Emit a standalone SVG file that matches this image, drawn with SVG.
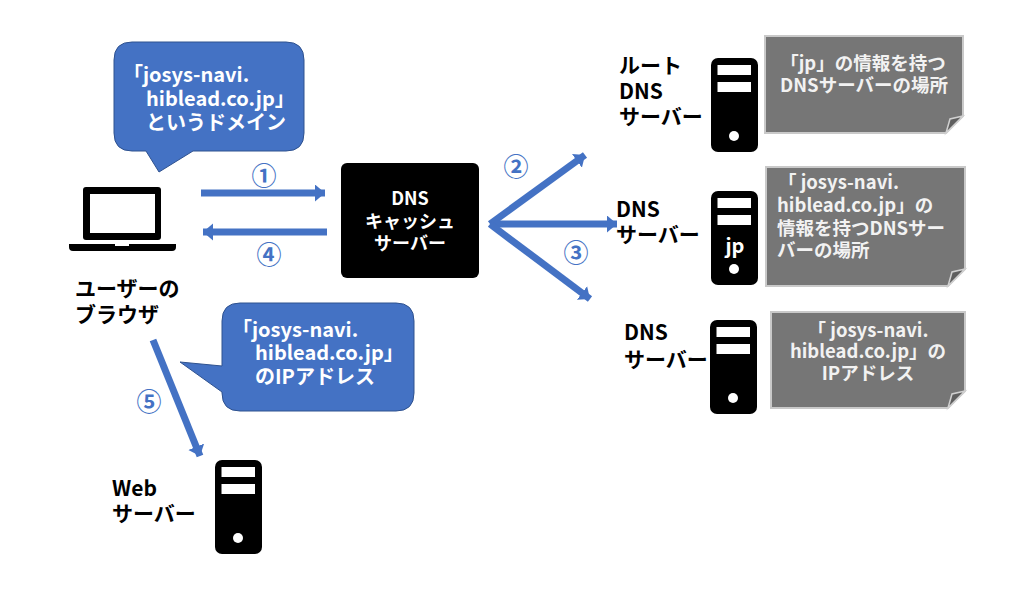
<svg xmlns="http://www.w3.org/2000/svg" width="1024" height="606" viewBox="0 0 1024 606">
<style>
text{font-family:"Noto Sans CJK JP","Noto Sans",sans-serif;font-weight:700;font-size:20px}
.k{fill:#000;font-size:21px}.w{fill:#fff}.c{font-size:18px}.g{fill:#f2f2f2;font-size:18.500px}
.n{fill:#4472c4;font-weight:700;font-size:25px;text-anchor:middle}
.bub{fill:#4472c4;stroke:#2f528f;stroke-width:1}
.note{fill:#767676;stroke:#c9c9c9;stroke-width:2}
.fold{fill:#5f5f5f;stroke:#d0d0d0;stroke-width:1.500}
.ar{fill:none;stroke:#4472c4;stroke-width:7;marker-end:url(#ah);stroke-linejoin:round}
</style>
<defs>
<marker id="ah" markerUnits="userSpaceOnUse" markerWidth="12" markerHeight="18" refX="10" refY="8.500" orient="auto"><path d="M0 0L10 8.500L0 17Z" fill="#4472c4"/></marker>
<g id="srv"><rect width="47" height="94" rx="7" fill="#000"/><rect x="6.500" y="7" width="33.500" height="10" fill="#fff"/><rect x="6.500" y="24" width="33.500" height="10" fill="#fff"/><circle cx="23" cy="78" r="5" fill="#fff"/></g>
</defs>
<rect width="1024" height="606" fill="#fff"/>
<g id="connectors">
<path class="ar" d="M201 193H325"/>
<path class="ar" d="M327 232H203"/>
<path class="ar" d="M490 224L585 155"/>
<path class="ar" d="M490 224H617"/>
<path class="ar" d="M490 224L590 299"/>
<path class="ar" d="M153 340L200 456"/>
<text class="n" x="264" y="185">①</text>
<text class="n" x="269" y="264">④</text>
<text class="n" x="516" y="176">②</text>
<text class="n" x="576" y="262">③</text>
<text class="n" x="149" y="411">⑤</text>
</g>
<g id="bubble-domain">
<path class="bub" d="M132 42H286Q304 42 304 60V133Q304 151 286 151H193L159 172L146 151H132Q114 151 114 133V60Q114 42 132 42Z"/>
<text class="w" x="123" y="82">「josys-navi.</text>
<text class="w" x="146" y="106">hiblead.co.jp」</text>
<text class="w" x="146" y="130">というドメイン</text>
</g>
<g id="bubble-ip">
<path class="bub" d="M240 303H396Q414 303 414 321V393Q414 411 396 411H240Q222 411 222 393L222 392L180 362L222 366V321Q222 303 240 303Z"/>
<text class="w" x="232" y="337">「josys-navi.</text>
<text class="w" x="255" y="360">hiblead.co.jp」</text>
<text class="w" x="255" y="384">のIPアドレス</text>
</g>
<g id="browser">
<rect x="83" y="187" width="78" height="53" rx="3" fill="#000"/>
<rect x="90" y="194" width="65" height="39" fill="#fff"/>
<path d="M69 244H176V247Q176 251 172 251H73Q69 251 69 247Z" fill="#000"/>
<rect x="115" y="244" width="14" height="2" fill="#fff"/>
<text class="k" x="75" y="296">ユーザーの</text>
<text class="k" x="75" y="322">ブラウザ</text>
</g>
<g id="cache">
<rect x="341" y="163" width="138" height="115" rx="6" fill="#000"/>
<text class="w c" x="410" y="205" text-anchor="middle">DNS</text>
<text class="w c" x="410" y="228" text-anchor="middle">キャッシュ</text>
<text class="w c" x="410" y="250" text-anchor="middle">サーバー</text>
</g>
<g id="root-dns">
<text class="k" x="619" y="73">ルート</text>
<text class="k" x="619" y="99">DNS</text>
<text class="k" x="619" y="124">サーバー</text>
<use href="#srv" x="711" y="58"/>
</g>
<g id="note-root">
<path class="note" d="M765 36H963V116L946 133H765Z"/>
<path class="fold" d="M963 116L950 119L946 133Z"/>
<text class="g" x="863" y="70" text-anchor="middle">「jp」の情報を持つ</text>
<text class="g" x="864" y="92" text-anchor="middle">DNSサーバーの場所</text>
</g>
<g id="jp-dns">
<text class="k" x="616" y="217">DNS</text>
<text class="k" x="616" y="242">サーバー</text>
<use href="#srv" x="711" y="191"/>
<text class="w" x="735" y="253" text-anchor="middle">jp</text>
</g>
<g id="note-jp">
<path class="note" d="M766 167H965V269L948 286H766Z"/>
<path class="fold" d="M965 269L952 272L948 286Z"/>
<text class="g" x="778" y="189">「 josys-navi.</text>
<text class="g" x="777" y="212">hiblead.co.jp」の</text>
<text class="g" x="777" y="235">情報を持つDNSサー</text>
<text class="g" x="777" y="257">バーの場所</text>
</g>
<g id="ip-dns">
<text class="k" x="624" y="340">DNS</text>
<text class="k" x="624" y="367">サーバー</text>
<use href="#srv" x="710" y="320"/>
</g>
<g id="note-ip">
<path class="note" d="M771 312H965V391L948 408H771Z"/>
<path class="fold" d="M965 391L952 394L948 408Z"/>
<text class="g" x="868" y="337" text-anchor="middle">「 josys-navi.</text>
<text class="g" x="868" y="358" text-anchor="middle">hiblead.co.jp」の</text>
<text class="g" x="868" y="380" text-anchor="middle">IPアドレス</text>
</g>
<g id="web">
<text class="k" x="112" y="496">Web</text>
<text class="k" x="112" y="521">サーバー</text>
<use href="#srv" x="215" y="460"/>
</g>
</svg>
